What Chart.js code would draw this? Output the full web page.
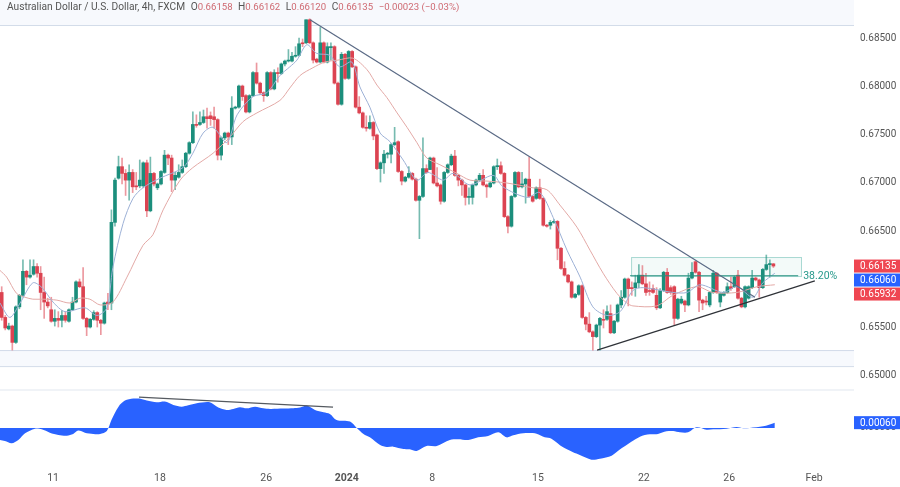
<!DOCTYPE html>
<html>
<head>
  <title>AUDUSD 4h</title>
  <script src="https://cdn.jsdelivr.net/npm/chart.js"></script>
  <style>
    body { margin: 0; background: #fff; }
    #wrap { position: relative; width: 900px; height: 487px; overflow: hidden; }
    canvas { position: absolute; left: 0; top: 0; }
    #head { position: absolute; left: 7px; top: 1px; font: 10.2px Roboto, sans-serif; color: #555; white-space: pre; }
    #head b { font-weight: normal; font-size: 9.6px; color: #cf6a72; }
    #head span { margin-left: 5.5px; }
  </style>
</head>
<body>
  <div id="wrap">
    <canvas id="chart" width="900" height="487"></canvas>
    <div id="head">Australian Dollar / U.S. Dollar, 4h, FXCM<span>O<b>0.66158</b></span><span>H<b>0.66162</b></span><span>L<b>0.66120</b></span><span>C<b>0.66135</b></span><span><b>−0.00023 (−0.03%)</b></span></div>
  </div>

  <script>
    const opens = [0.6586,0.6560,0.6548,0.6551,0.6534,0.6571,0.6583,0.6608,0.6602,0.6605,0.6613,0.6606,0.6586,0.6576,0.6568,0.6556,0.6559,0.6557,0.6562,0.6556,
      0.6568,0.6576,0.6597,0.6592,0.6559,0.6550,0.6558,0.6565,0.6557,0.6554,0.6576,0.6575,0.6659,0.6705,0.6717,0.6710,0.6703,0.6711,0.6697,0.6697,
      0.6697,0.6721,0.6671,0.6710,0.6695,0.6699,0.6711,0.6729,0.6726,0.6703,0.6706,0.6711,0.6717,0.6731,0.6742,0.6761,0.6761,0.6763,0.6769,0.6770,
      0.6769,0.6766,0.6729,0.6747,0.6752,0.6748,0.6778,0.6779,0.6801,0.6791,0.6774,0.6791,0.6815,0.6804,0.6794,0.6791,0.6815,0.6798,0.6815,0.6814,
      0.6824,0.6827,0.6827,0.6832,0.6833,0.6846,0.6846,0.6870,0.6846,0.6829,0.6826,0.6846,0.6826,0.6841,0.6842,0.6804,0.6782,0.6834,0.6809,0.6837,
      0.6821,0.6779,0.6773,0.6758,0.6757,0.6763,0.6750,0.6715,0.6721,0.6730,0.6730,0.6740,0.6743,0.6712,0.6702,0.6706,0.6710,0.6704,0.6682,0.6686,
      0.6715,0.6714,0.6726,0.6700,0.6698,0.6681,0.6711,0.6719,0.6728,0.6708,0.6703,0.6698,0.6685,0.6685,0.6698,0.6703,0.6708,0.6698,0.6696,0.6700,
      0.6717,0.6718,0.6710,0.6665,0.6655,0.6686,0.6711,0.6696,0.6699,0.6704,0.6686,0.6684,0.6695,0.6684,0.6656,0.6656,0.6659,0.6660,0.6632,0.6611,
      0.6604,0.6597,0.6581,0.6584,0.6593,0.6560,0.6553,0.6545,0.6540,0.6552,0.6558,0.6558,0.6564,0.6544,0.6556,0.6573,0.6581,0.6600,0.6591,0.6591,
      0.6596,0.6604,0.6595,0.6588,0.6590,0.6583,0.6570,0.6588,0.6607,0.6591,0.6592,0.6559,0.6575,0.6577,0.6573,0.6601,0.6618,0.6607,0.6578,0.6577,
      0.6573,0.6586,0.6606,0.6576,0.6583,0.6586,0.6592,0.6592,0.6604,0.6580,0.6571,0.6580,0.6591,0.6601,0.6599,0.6591,0.6610,0.6615,0.66158];
    const highs = [0.6592,0.6562,0.6554,0.6552,0.6572,0.6584,0.6620,0.6609,0.6620,0.6620,0.6616,0.6613,0.6602,0.6580,0.6581,0.6568,0.6566,0.6567,0.6566,0.6569,
      0.6581,0.6598,0.6600,0.6612,0.6560,0.6559,0.6567,0.6566,0.6558,0.6576,0.6585,0.6672,0.6705,0.6728,0.6726,0.6714,0.6719,0.6714,0.6711,0.6724,
      0.6722,0.6724,0.6727,0.6711,0.6700,0.6713,0.6734,0.6730,0.6729,0.6711,0.6719,0.6724,0.6732,0.6743,0.6774,0.6771,0.6774,0.6776,0.6778,0.6774,
      0.6779,0.6767,0.6748,0.6753,0.6753,0.6790,0.6780,0.6802,0.6802,0.6792,0.6792,0.6816,0.6825,0.6805,0.6795,0.6816,0.6816,0.6818,0.6820,0.6825,
      0.6828,0.6839,0.6836,0.6842,0.6851,0.6850,0.6870,0.6871,0.6847,0.6830,0.6862,0.6847,0.6846,0.6846,0.6843,0.6805,0.6836,0.6835,0.6838,0.6838,
      0.6822,0.6790,0.6774,0.6770,0.6770,0.6764,0.6751,0.6722,0.6734,0.6732,0.6741,0.6758,0.6744,0.6713,0.6707,0.6717,0.6711,0.6705,0.6687,0.6747,
      0.6719,0.6727,0.6727,0.6716,0.6699,0.6712,0.6720,0.6730,0.6734,0.6709,0.6704,0.6699,0.6695,0.6699,0.6704,0.6710,0.6714,0.6699,0.6701,0.6718,
      0.6725,0.6722,0.6711,0.6666,0.6687,0.6712,0.6712,0.6711,0.6705,0.6727,0.6687,0.6696,0.6704,0.6685,0.6657,0.6661,0.6662,0.6661,0.6633,0.6618,
      0.6605,0.6598,0.6585,0.6594,0.6594,0.6561,0.6565,0.6546,0.6553,0.6560,0.6568,0.6572,0.6573,0.6557,0.6574,0.6588,0.6601,0.6601,0.6597,0.6604,
      0.6615,0.6614,0.6606,0.6597,0.6594,0.6591,0.6590,0.6608,0.6611,0.6593,0.6593,0.6580,0.6582,0.6578,0.6606,0.6617,0.6619,0.6608,0.6579,0.6582,
      0.6587,0.6609,0.6607,0.6586,0.6587,0.6596,0.6602,0.6603,0.6609,0.6581,0.6593,0.6593,0.6609,0.6602,0.6600,0.6611,0.6625,0.6620,0.66162];
    const lows = [0.6557,0.6547,0.6547,0.6526,0.6533,0.6569,0.6581,0.6594,0.6601,0.6604,0.6602,0.6568,0.6559,0.6570,0.6555,0.6551,0.6550,0.6550,0.6555,0.6555,
      0.6567,0.6575,0.6591,0.6558,0.6541,0.6549,0.6557,0.6550,0.6542,0.6553,0.6568,0.6568,0.6655,0.6704,0.6699,0.6687,0.6682,0.6690,0.6693,0.6695,
      0.6695,0.6665,0.6670,0.6697,0.6693,0.6698,0.6710,0.6719,0.6691,0.6693,0.6705,0.6710,0.6716,0.6730,0.6741,0.6758,0.6760,0.6762,0.6757,0.6760,
      0.6757,0.6724,0.6724,0.6745,0.6740,0.6740,0.6777,0.6778,0.6786,0.6773,0.6773,0.6790,0.6803,0.6792,0.6785,0.6790,0.6797,0.6797,0.6805,0.6813,
      0.6822,0.6826,0.6826,0.6831,0.6832,0.6842,0.6845,0.6845,0.6825,0.6825,0.6825,0.6825,0.6825,0.6828,0.6803,0.6781,0.6781,0.6808,0.6808,0.6820,
      0.6778,0.6772,0.6757,0.6754,0.6756,0.6745,0.6714,0.6701,0.6710,0.6726,0.6721,0.6739,0.6711,0.6698,0.6701,0.6705,0.6703,0.6681,0.6642,0.6685,
      0.6710,0.6714,0.6699,0.6696,0.6678,0.6680,0.6710,0.6718,0.6707,0.6697,0.6687,0.6677,0.6678,0.6678,0.6697,0.6702,0.6697,0.6685,0.6695,0.6699,
      0.6714,0.6709,0.6664,0.6648,0.6654,0.6685,0.6695,0.6695,0.6679,0.6685,0.6680,0.6683,0.6683,0.6655,0.6654,0.6652,0.6658,0.6620,0.6610,0.6603,
      0.6596,0.6580,0.6580,0.6583,0.6559,0.6547,0.6544,0.6526,0.6539,0.6526,0.6549,0.6557,0.6543,0.6543,0.6555,0.6570,0.6580,0.6572,0.6583,0.6582,
      0.6591,0.6594,0.6583,0.6583,0.6585,0.6568,0.6569,0.6587,0.6585,0.6584,0.6552,0.6558,0.6574,0.6566,0.6572,0.6600,0.6606,0.6566,0.6568,0.6573,
      0.6571,0.6585,0.6585,0.6571,0.6582,0.6585,0.6588,0.6591,0.6579,0.6570,0.6570,0.6579,0.6590,0.6598,0.6581,0.6590,0.6609,0.6602,0.66120];
    const closes = [0.6560,0.6549,0.6551,0.6534,0.6571,0.6583,0.6608,0.6602,0.6604,0.6613,0.6606,0.6586,0.6576,0.6572,0.6556,0.6559,0.6557,0.6562,0.6557,0.6568,
      0.6576,0.6597,0.6592,0.6559,0.6550,0.6558,0.6565,0.6557,0.6554,0.6575,0.6574,0.6659,0.6703,0.6717,0.6710,0.6703,0.6711,0.6696,0.6696,0.6703,
      0.6721,0.6671,0.6710,0.6699,0.6699,0.6712,0.6729,0.6726,0.6703,0.6708,0.6711,0.6717,0.6731,0.6742,0.6761,0.6760,0.6763,0.6769,0.6767,0.6767,
      0.6766,0.6729,0.6747,0.6752,0.6748,0.6778,0.6779,0.6801,0.6790,0.6774,0.6791,0.6815,0.6804,0.6794,0.6791,0.6815,0.6798,0.6815,0.6814,0.6824,
      0.6827,0.6828,0.6832,0.6833,0.6845,0.6845,0.6870,0.6846,0.6828,0.6826,0.6846,0.6826,0.6842,0.6842,0.6804,0.6782,0.6834,0.6809,0.6837,0.6821,
      0.6779,0.6773,0.6758,0.6757,0.6763,0.6749,0.6715,0.6721,0.6730,0.6731,0.6740,0.6742,0.6712,0.6702,0.6706,0.6710,0.6704,0.6682,0.6686,0.6715,
      0.6711,0.6726,0.6700,0.6697,0.6681,0.6711,0.6719,0.6728,0.6708,0.6703,0.6698,0.6685,0.6686,0.6698,0.6703,0.6708,0.6698,0.6696,0.6700,0.6717,
      0.6718,0.6710,0.6665,0.6655,0.6686,0.6711,0.6696,0.6699,0.6704,0.6686,0.6681,0.6695,0.6684,0.6656,0.6655,0.6659,0.6660,0.6632,0.6611,0.6604,
      0.6597,0.6581,0.6584,0.6593,0.6560,0.6553,0.6545,0.6540,0.6552,0.6559,0.6557,0.6566,0.6544,0.6556,0.6573,0.6581,0.6600,0.6590,0.6590,0.6596,
      0.6604,0.6595,0.6586,0.6587,0.6586,0.6570,0.6588,0.6607,0.6586,0.6586,0.6559,0.6579,0.6579,0.6573,0.6601,0.6607,0.6607,0.6578,0.6575,0.6576,
      0.6586,0.6606,0.6586,0.6585,0.6586,0.6592,0.6590,0.6602,0.6580,0.6571,0.6592,0.6592,0.6601,0.6599,0.6591,0.6610,0.6615,0.6616,0.66135];

    const fastIndex = [-0.5,2.3,5.2,8.8,11.4,14.5,17.9,23.5,26.9,29.7,31.4,34.3,37.1,39.9,44.7,51.2,54,56.9,59.7,63.6,66.5,71,74.9,78.6,81.4,83.4,86.2,89,92.7,95.5,98.9,101.2,104,106.9,109.7,113.4,117.3,120.4,124.7,127.5,132.3,138.8,141.6,148.4,152,155.8,159.7,163.4,167,171,174.7,178.3,181.2,189.6,193.6,197.3,203.8,207.7,212.2,215,218.4];
    const fastValues = [0.6575,0.6560,0.6575,0.6596,0.6591,0.6576,0.6566,0.6570,0.6562,0.6570,0.6612,0.6658,0.6684,0.6695,0.6705,0.6716,0.6731,0.6752,0.6758,0.6742,0.6771,0.6790,0.6794,0.6812,0.6821,0.6828,0.6844,0.6835,0.6833,0.6821,0.6826,0.6800,0.6779,0.6752,0.6743,0.6724,0.6703,0.6711,0.6703,0.6710,0.6698,0.6708,0.6696,0.6685,0.6690,0.6664,0.6630,0.6602,0.6571,0.6562,0.6566,0.6588,0.6591,0.6586,0.6586,0.6594,0.6586,0.6592,0.6581,0.6596,0.6606];
    const slowIndex = [-0.5,1.4,4.2,6.6,8.8,11.7,15.6,19.3,22.1,24.9,27.8,31.4,35.4,39.9,42.7,45.6,50.4,54,59.7,64.5,68.2,72.1,78.6,81.4,84.3,87.9,91.3,95,99.2,103.2,106,108.8,111.7,114.5,117.3,120.1,123.8,128.6,132.3,137.1,142.7,150.1,154,157.7,162.5,166.2,169.9,173.8,176.6,178.3,185,189.6,196.4,200.9,207.7,213.4,218.4];
    const slowValues = [0.6609,0.6602,0.6585,0.6581,0.6579,0.6579,0.6578,0.6575,0.6580,0.6579,0.6573,0.6576,0.6602,0.6635,0.6646,0.6672,0.6703,0.6716,0.6731,0.6748,0.6764,0.6773,0.6786,0.6799,0.6812,0.6820,0.6826,0.6828,0.6830,0.6818,0.6802,0.6789,0.6773,0.6758,0.6742,0.6726,0.6719,0.6710,0.6703,0.6702,0.6700,0.6695,0.6693,0.6677,0.6654,0.6630,0.6606,0.6585,0.6575,0.6572,0.6572,0.6583,0.6592,0.6586,0.6586,0.6592,0.6594];

    const macdIndex = [-0.5,0.9,2.8,4.7,6.6,9.4,11.3,13.6,16,18.4,20.2,21.6,23.5,25.9,27.8,29.7,31,33,34.8,37.2,38.9,41,43.8,46.1,48.5,50.8,52.7,55.1,58.8,61.2,63.5,65.4,67.3,69.2,71.6,73.9,75.8,79.6,82.4,84.3,86.2,88.5,90.9,92.7,94.6,98.4,100.3,102.2,104,106.9,108.8,110.6,113.5,115.3,117.2,120,122.9,126.6,
      129,131.8,134.6,137.4,140.3,142.6,144.5,147.3,151.1,153.4,155.3,158.6,161.4,163.3,166.6,169,172.3,175.1,180.3,183.1,185.4,187.8,189.7,191.6,193.9,196.3,199.1,201,204.8,207.6,209.5,211.3,215.1,218.4];
    const macdValues = [-0.00136,-0.00147,-0.00173,-0.00136,-0.0006,-0.00008,-0.00015,-0.00053,-0.00079,-0.00087,-0.00068,-0.0003,-0.00053,-0.00068,-0.00068,-0.00034,0.0009,0.00241,0.00309,0.00332,0.00332,0.00309,0.0029,0.00298,0.0026,0.00241,0.00256,0.00279,0.0029,0.0023,0.00204,0.00215,0.00234,0.00222,0.00241,0.00222,0.00215,0.00219,0.00222,0.0023,0.00253,0.00204,0.00177,0.00158,0.0009,0.00072,0,-0.00068,-0.00106,-0.00192,-0.00215,-0.00211,-0.00238,-0.00241,-0.0026,-0.00204,-0.00204,-0.00136,
      -0.00128,-0.00136,-0.00106,-0.0009,-0.00049,-0.00106,-0.00083,-0.0006,-0.00064,-0.00106,-0.00121,-0.00219,-0.00275,-0.00305,-0.00358,-0.00347,-0.00313,-0.0023,-0.00098,-0.00072,-0.00068,-0.00038,-0.00034,-0.00049,-0.00049,0.00008,-0.00019,-0.00015,-0.00008,0.00011,-0.00004,0,0.00019,0.0006];

    const tickPositions = [14.5,44.7,74.7,97.5,121.6,151.5,181.4,205.5,229.5];
    const tickLabels = ['11','18','26','2024','8','15','22','26','Feb'];
    const priceTicks = [0.65,0.655,0.665,0.67,0.675,0.68,0.685];

    // drawn levels on the chart, as [candle index, price]
    const downTrend = [[87.1,0.6870],[212.8,0.6581]];
    const upTrend = [[168.2,0.6526],[229.7,0.6598]];
    const fibLine = [[177.5,0.66034],[225,0.66034]];
    const macdTrend = [[38.8,0.00349],[93.6,0.00236]];
    const rangeBox = [177.8,225.8,0.66229,0.66031];
    const shadeBands = [[0.68906,0.68635],[0.6526,0.65093]];
    const priceTags = [[0.66135,'#ef4652'],[0.6606,'#2962ff'],[0.65932,'#ef4652']];
    const macdTag = [0.0006,'#2962ff'];

    const pts = (xs, ys) => xs.map((x, i) => ({ x: x, y: ys[i] }));
    const pairs = list => list.map(p => ({ x: p[0], y: p[1] }));
    const up = opens.map((o, i) => closes[i] >= o);

    function level(data, color, axis) {
      return { type: 'line', data: pairs(data), borderColor: color, borderWidth: 1.2, pointRadius: 0, yAxisID: axis || 'y', order: 1 };
    }
    function avg(xs, ys, color) {
      return { type: 'line', data: pts(xs, ys), borderColor: color, borderWidth: 1, pointRadius: 0, tension: 0.3, yAxisID: 'y', order: 2 };
    }
    function noPadding(s) {
      s.paddingTop = s.paddingBottom = s.paddingLeft = s.paddingRight = 0;
    }

    const overlay = {
      id: 'overlay',
      beforeDatasetsDraw(chart) {
        const c = chart.ctx, y = chart.scales.y, x = chart.scales.x, a = chart.chartArea;
        c.save();
        shadeBands.forEach(b => {
          const t = y.getPixelForValue(b[0]), e = y.getPixelForValue(b[1]);
          c.fillStyle = '#f7f9fd';
          c.fillRect(a.left, t, a.width, e - t);
          c.fillStyle = '#d3dce9';
          c.fillRect(a.left, b[0] > 0.68 ? e - 1 : t, a.width, 1);
          if (b[0] < 0.68) c.fillRect(a.left, e, a.width, 1);
        });
        c.fillStyle = '#f0f3f7';
        c.fillRect(a.left, y.bottom - 1, a.width, 2);
        const l = x.getPixelForValue(rangeBox[0]), r = x.getPixelForValue(rangeBox[1]);
        const t = y.getPixelForValue(rangeBox[2]), b = y.getPixelForValue(rangeBox[3]);
        c.fillStyle = 'rgba(178,223,219,0.16)';
        c.fillRect(l, t, r - l, b - t);
        c.strokeStyle = '#a9d9d3';
        c.strokeRect(l + 0.5, t + 0.5, r - l, b - t);
        c.restore();
      },
      afterDraw(chart) {
        const c = chart.ctx, y = chart.scales.y, y2 = chart.scales.y2, x = chart.scales.x, a = chart.chartArea;
        c.save();
        c.font = '10.5px Roboto, sans-serif';
        c.textBaseline = 'middle';
        c.fillStyle = '#26998b';
        c.fillText('38.20%', x.getPixelForValue(fibLine[1][0]) + 5, y.getPixelForValue(fibLine[0][1]) + 0.5);
        c.font = '10px Roboto, sans-serif';
        let last = -100;
        const tag = (v, color, py) => {
          c.fillStyle = color;
          c.fillRect(a.right, py - 6.5, 46, 13);
          c.fillStyle = '#fff';
          c.fillText(v.toFixed(5), a.right + 6, py + 0.5);
        };
        priceTags.forEach(p => {
          const py = Math.max(y.getPixelForValue(p[0]), last + 14);
          tag(p[0], p[1], py);
          last = py;
        });
        tag(macdTag[0], macdTag[1], y2.getPixelForValue(macdTag[0]));
        c.restore();
      }
    };

    new Chart(document.getElementById('chart'), {
      type: 'bar',
      data: {
        datasets: [
          level(downTrend, '#5a6a85'),
          level(upTrend, '#2f3238'),
          level(fibLine, '#26917f'),
          level(macdTrend, '#555a60', 'y2'),
          avg(fastIndex, fastValues, '#9db1d6'),
          avg(slowIndex, slowValues, '#e3a9a6'),
          {
            data: opens.map((o, i) => ({ x: i, y: [o, closes[i]] })),
            backgroundColor: up.map(u => u ? '#1b8e7c' : '#dc4351'),
            barThickness: 3, minBarLength: 1, grouped: false, order: 3
          },
          {
            data: lows.map((l, i) => ({ x: i, y: [l, highs[i]] })),
            backgroundColor: up.map(u => u ? 'rgba(27,142,124,0.6)' : 'rgba(220,67,81,0.55)'),
            barThickness: 1, grouped: false, order: 4
          },
          {
            type: 'line', data: pts(macdIndex, macdValues), yAxisID: 'y2', order: 5,
            borderWidth: 0, pointRadius: 0, tension: 0.3, backgroundColor: '#2962ff', fill: { value: 0 }
          }
        ]
      },
      options: {
        responsive: false,
        animation: false,
        layout: { padding: 0, autoPadding: false },
        plugins: { legend: { display: false }, tooltip: { enabled: false } },
        scales: {
          x: {
            type: 'linear', offset: false, min: -0.48, max: 240.77,
            grid: { display: false, drawTicks: false }, border: { display: false },
            afterBuildTicks: s => { s.ticks = tickPositions.map(v => ({ value: v })); },
            afterFit: s => { s.height = 20; noPadding(s); },
            ticks: {
              autoSkip: false, maxRotation: 0, padding: 5, color: '#555',
              callback: v => tickLabels[tickPositions.indexOf(v)],
              font: ctx => ({ family: 'Roboto, sans-serif', size: 10.5, weight: tickLabels[ctx.index] === '2024' ? 'bold' : 'normal' })
            }
          },
          y: {
            position: 'right', stack: 'panes', stackWeight: 390, min: 0.64844, max: 0.68906,
            grid: { display: false, drawTicks: false }, border: { display: false },
            afterBuildTicks: s => { s.ticks = priceTicks.map(v => ({ value: v })); },
            afterFit: s => { s.width = 46; noPadding(s); },
            ticks: {
              autoSkip: false, padding: 6, color: '#555', font: { family: 'Roboto, sans-serif', size: 10 },
              callback: v => v.toFixed(5)
            }
          },
          y2: {
            position: 'right', stack: 'panes', stackWeight: 77, min: -0.00441, max: 0.00429,
            grid: { display: false, drawTicks: false }, border: { display: false },
            afterBuildTicks: s => { s.ticks = [{ value: 0 }]; },
            afterFit: s => { s.width = 46; noPadding(s); },
            ticks: {
              autoSkip: false, padding: 6, color: '#555', font: { family: 'Roboto, sans-serif', size: 10 },
              callback: v => v.toFixed(5)
            }
          }
        }
      },
      plugins: [overlay]
    });
  </script>
</body>
</html>
